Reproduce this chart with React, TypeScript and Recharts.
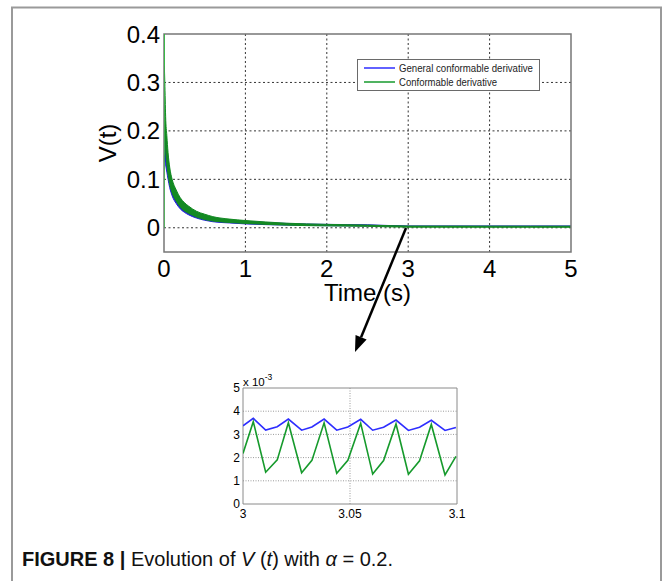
import React from "react";
import {
  ComposedChart,
  LineChart,
  Line,
  Area,
  XAxis,
  YAxis,
  CartesianGrid,
  ReferenceArea,
  Legend,
  Label,
} from "recharts";

const FONT = '"Liberation Sans", Arial, Helvetica, sans-serif';
const BLUE = "#2e2eff";
const GREEN = "#169a2c";
const BAND_BLUE = "#2323d8";
const BAND_GREEN = "#138a22";

// V(t) oscillates fast, so over 0..5 s each trace shows up as a band (low / high envelope)
const mainTime = [0.004, 0.01, 0.02, 0.035, 0.05, 0.07, 0.1, 0.15, 0.2, 0.25, 0.3, 0.4, 0.5, 0.6, 0.8, 1.0, 1.25, 1.5, 1.75, 2.0, 2.5, 3.0, 3.5, 4.0, 4.5, 5.0];
const greenLow = [0.26, 0.2, 0.16, 0.13, 0.11, 0.09, 0.072, 0.055, 0.043, 0.035, 0.03, 0.022, 0.017, 0.014, 0.011, 0.009, 0.007, 0.0055, 0.0045, 0.004, 0.003, 0.0013, 0.0012, 0.0011, 0.0011, 0.001];
const greenHigh = [0.335, 0.3, 0.23, 0.19, 0.155, 0.125, 0.1, 0.078, 0.062, 0.052, 0.045, 0.034, 0.028, 0.023, 0.018, 0.015, 0.012, 0.0095, 0.008, 0.007, 0.0055, 0.0036, 0.0035, 0.0034, 0.0033, 0.0033];
const blueLow = [0.15, 0.14, 0.13, 0.115, 0.1, 0.083, 0.066, 0.05, 0.039, 0.032, 0.027, 0.02, 0.0155, 0.0125, 0.01, 0.008, 0.0065, 0.0055, 0.0048, 0.0043, 0.0036, 0.0031, 0.0031, 0.003, 0.003, 0.003];
const blueHigh = [0.2, 0.2, 0.19, 0.16, 0.14, 0.115, 0.092, 0.072, 0.057, 0.048, 0.041, 0.031, 0.025, 0.021, 0.016, 0.0135, 0.011, 0.009, 0.0078, 0.007, 0.0062, 0.0037, 0.0037, 0.0037, 0.0037, 0.0037];

// start-up transient of the conformable-derivative trace
const spikeTime = [0, 0.0015, 0.004];
const spikeValue = [0, 0.45, 0.335];

const mainXTicks = [0, 1, 2, 3, 4, 5];
const mainYTicks = [0, 0.1, 0.2, 0.3, 0.4];

// zoomed window 3 s .. 3.1 s
const zoomTime = [3.0, 3.0048, 3.0106, 3.016, 3.0212, 3.0274, 3.0322, 3.0379, 3.0438, 3.049, 3.055, 3.0606, 3.0657, 3.0715, 3.0773, 3.0825, 3.088, 3.0944, 3.0995];
const zoomBlue = [0.00337, 0.00369, 0.00319, 0.00333, 0.00366, 0.00318, 0.00332, 0.00366, 0.00318, 0.00332, 0.00365, 0.00318, 0.00331, 0.00362, 0.00317, 0.00331, 0.00361, 0.00317, 0.0033];
const zoomGreen = [0.00218, 0.00355, 0.00137, 0.0019, 0.0035, 0.00135, 0.00188, 0.0035, 0.00132, 0.00188, 0.00348, 0.00129, 0.00187, 0.00345, 0.00128, 0.00186, 0.00343, 0.00125, 0.00205];
const zoomXTicks = [3, 3.05, 3.1];
const zoomYTicks = [0, 0.001, 0.002, 0.003, 0.004, 0.005];

const seriesNames = ["General conformable derivative", "Conformable derivative"];

const mainRows = mainTime.map((t, i) => ({
  t,
  green: [greenLow[i], greenHigh[i]],
  blue: [blueLow[i], blueHigh[i]],
}));
const spikeRows = spikeTime.map((t, i) => ({ t, v: spikeValue[i] }));
const zoomRows = zoomTime.map((t, i) => ({ t, blue: zoomBlue[i], green: zoomGreen[i] }));

const LegendBox = () => (
  <div
    style={{
      width: 181,
      height: 30,
      border: "1.5px solid #6a6a6a",
      background: "#fff",
      boxSizing: "content-box",
    }}
  >
    <svg width={181} height={30} style={{ overflow: "visible", display: "block" }}>
      {[BLUE, GREEN].map((c, i) => (
        <g key={i}>
          <line x1={6} x2={37} y1={8 + i * 14} y2={8 + i * 14} stroke={c} strokeWidth={1.5} />
          <text
            x={41}
            y={12 + i * 14}
            fontSize={10.5}
            fontFamily={FONT}
            fill="#222"
            textLength={i === 0 ? 134 : 98}
            lengthAdjust="spacingAndGlyphs"
          >
            {seriesNames[i]}
          </text>
        </g>
      ))}
    </svg>
  </div>
);

const VLabel = (props: any) => {
  const vb = props.viewBox || { x: 104, y: 34, height: 218 };
  const x = vb.x + 3;
  const y = vb.y + vb.height / 2;
  return (
    <text
      x={x}
      y={y}
      transform={`rotate(-90 ${x} ${y})`}
      textAnchor="middle"
      dominantBaseline="central"
      fontSize={24}
      fontFamily={FONT}
      fill="#000"
    >
      V(t)
    </text>
  );
};

const ExpLabel = (props: any) => {
  const vb = props.viewBox || { x: 183, y: 388, width: 60 };
  const x = vb.x + vb.width;
  const y = vb.y - 2;
  return (
    <text x={x} y={y} fontSize={11.5} fontFamily={FONT} fill="#000">
      x 10
      <tspan dy={-6} fontSize={8.5}>
        -3
      </tspan>
    </text>
  );
};

const tip = { x: 355, y: 352 };
const tail = { x: 406, y: 228 };

const Arrow = () => {
  const dx = tip.x - tail.x;
  const dy = tip.y - tail.y;
  const len = Math.hypot(dx, dy);
  const ux = dx / len;
  const uy = dy / len;
  const bx = tip.x - ux * 16;
  const by = tip.y - uy * 16;
  const px = -uy * 6;
  const py = ux * 6;
  return (
    <g>
      <line x1={tail.x} y1={tail.y} x2={bx} y2={by} stroke="#000" strokeWidth={2.5} />
      <polygon
        points={`${tip.x},${tip.y} ${bx + px},${by + py} ${bx - px},${by - py}`}
        fill="#000"
      />
    </g>
  );
};

export default function App() {
  return (
    <div
      style={{
        position: "absolute",
        left: 0,
        top: 0,
        width: 665,
        height: 581,
        background: "#fff",
        overflow: "hidden",
        fontFamily: FONT,
      }}
    >
      <div style={{ position: "absolute", left: 0, top: 0 }}>
        <ComposedChart
          width={600}
          height={320}
          margin={{ top: 34, right: 29, bottom: 20, left: 104 }}
          data={mainRows}
        >
          <CartesianGrid
            stroke="#333"
            strokeDasharray="2 2.5"
            strokeWidth={1}
            horizontalValues={[0, 0.1, 0.2, 0.3]}
            verticalValues={[1, 2, 3, 4]}
          />
          <XAxis
            dataKey="t"
            type="number"
            domain={[0, 5]}
            ticks={mainXTicks}
            allowDataOverflow
            height={48}
            axisLine={false}
            tickLine={false}
            tickSize={0}
            tickMargin={8}
            tick={{ fontSize: 24, fill: "#000", fontFamily: FONT }}
          >
            <Label
              value="Time (s)"
              position="insideBottom"
              offset={-1}
              style={{ fontSize: 24, fill: "#000", fontFamily: FONT }}
            />
          </XAxis>
          <YAxis
            type="number"
            domain={[-0.05, 0.4]}
            ticks={mainYTicks}
            allowDataOverflow
            width={60}
            axisLine={false}
            tickLine={false}
            tickSize={0}
            tickMargin={4}
            tick={{ fontSize: 24, fill: "#000", fontFamily: FONT }}
          >
            <Label content={VLabel} />
          </YAxis>
          <Area
            type="monotone"
            dataKey="blue"
            stroke={BAND_BLUE}
            strokeWidth={1}
            fill={BAND_BLUE}
            fillOpacity={1}
            isAnimationActive={false}
          />
          <Area
            type="monotone"
            dataKey="green"
            stroke={BAND_GREEN}
            strokeWidth={1}
            fill={BAND_GREEN}
            fillOpacity={1}
            isAnimationActive={false}
          />
          <Line
            data={spikeRows}
            dataKey="v"
            type="linear"
            stroke="#2bbf3c"
            strokeWidth={1.2}
            dot={false}
            isAnimationActive={false}
          />
          <ReferenceArea
            x1={0}
            x2={5}
            y1={-0.05}
            y2={0.4}
            fill="none"
            stroke="#777"
            strokeWidth={1.5}
            ifOverflow="visible"
          />
          <Legend
            layout="horizontal"
            verticalAlign="middle"
            align="center"
            content={() => <LegendBox />}
            wrapperStyle={{ left: 357, top: 59, width: 184, height: 33 }}
          />
        </ComposedChart>
      </div>

      <div style={{ position: "absolute", left: 180, top: 370 }}>
        <LineChart
          width={290}
          height={160}
          margin={{ top: 18, right: 13, bottom: 0, left: 3 }}
          data={zoomRows}
        >
          <CartesianGrid
            stroke="#9a9a9a"
            strokeDasharray="1 1.5"
            horizontalValues={[0.001, 0.002, 0.003, 0.004]}
            verticalValues={[3.05]}
          />
          <XAxis
            dataKey="t"
            type="number"
            domain={[3, 3.1]}
            ticks={zoomXTicks}
            allowDataOverflow
            height={26}
            axisLine={false}
            tickLine={false}
            tickSize={0}
            tickMargin={5}
            tickFormatter={(v: number) => String(v)}
            tick={{ fontSize: 12, fill: "#000", fontFamily: FONT }}
          />
          <YAxis
            type="number"
            domain={[0, 0.005]}
            ticks={zoomYTicks}
            allowDataOverflow
            width={60}
            axisLine={false}
            tickLine={false}
            tickSize={0}
            tickMargin={3}
            tickFormatter={(v: number) => String(Math.round(v * 1000))}
            tick={{ fontSize: 12, fill: "#000", fontFamily: FONT }}
          >
            <Label content={ExpLabel} />
          </YAxis>
          <Line
            dataKey="blue"
            type="linear"
            stroke={BLUE}
            strokeWidth={1.6}
            dot={false}
            isAnimationActive={false}
          />
          <Line
            dataKey="green"
            type="linear"
            stroke={GREEN}
            strokeWidth={1.6}
            dot={false}
            isAnimationActive={false}
          />
          <ReferenceArea
            x1={3}
            x2={3.1}
            y1={0}
            y2={0.005}
            fill="none"
            stroke="#8a8a8a"
            strokeWidth={1}
            ifOverflow="visible"
          />
        </LineChart>
      </div>

      <svg
        width={665}
        height={581}
        style={{ position: "absolute", left: 0, top: 0, pointerEvents: "none" }}
      >
        <path d="M12 581 V7.5 H661 V581" fill="none" stroke="#9a9a9a" strokeWidth={2} />
        <Arrow />
        <text x={22} y={566} fontSize={20} fontFamily={FONT} fill="#111">
          <tspan fontWeight="bold">FIGURE 8 |</tspan>
          <tspan> Evolution of </tspan>
          <tspan fontStyle="italic">V</tspan>
          <tspan> (</tspan>
          <tspan fontStyle="italic">t</tspan>
          <tspan>) with </tspan>
          <tspan fontStyle="italic">α</tspan>
          <tspan> = 0.2.</tspan>
        </text>
      </svg>
    </div>
  );
}
